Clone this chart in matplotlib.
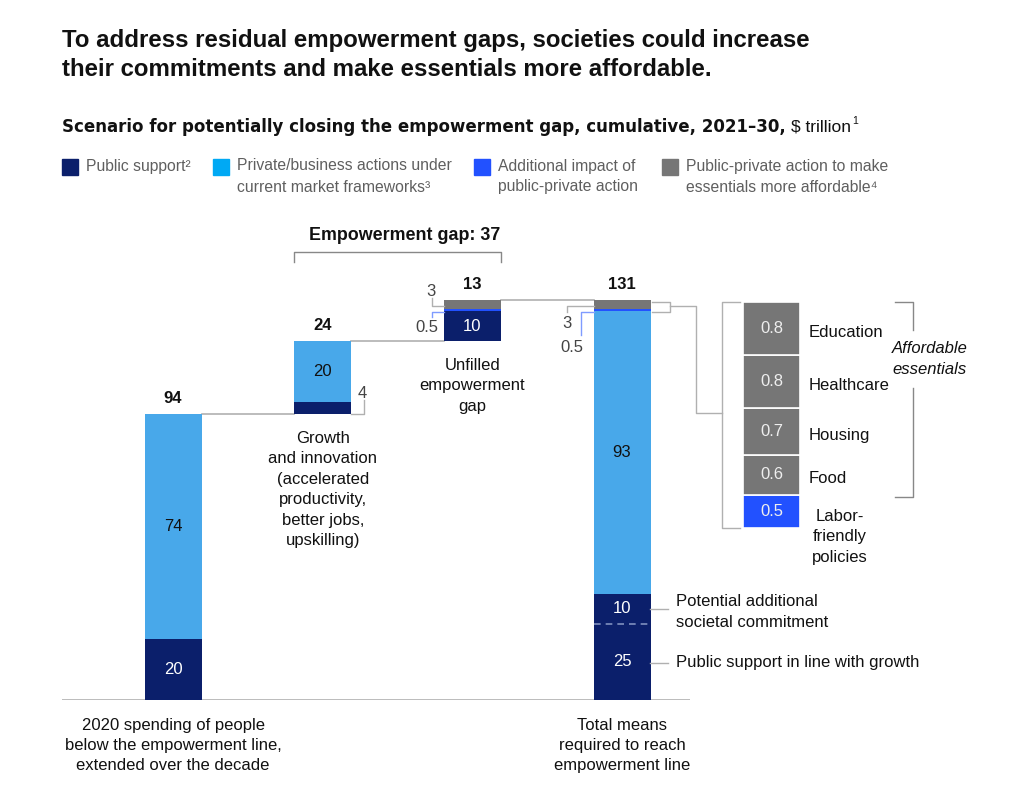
import matplotlib
matplotlib.use('Agg')
import matplotlib.pyplot as plt
from matplotlib.patches import Rectangle

plt.rcParams['font.family'] = ['Liberation Sans', 'DejaVu Sans']

NAVY = '#0b1f6b'
SKY = '#48a8ea'
SKY_LEG = '#00a9f4'
BLUE = '#2251ff'
GREY = '#767676'
LINE = '#b0b0b0'
INK = '#111111'
SOFT = '#5f5f5f'
LS = 1.45

# --- data ---
bar_labels = ['2020 spending of people\nbelow the empowerment line,\nextended over the decade',
              'Growth\nand innovation\n(accelerated\nproductivity,\nbetter jobs,\nupskilling)',
              'Unfilled\nempowerment\ngap',
              'Total means\nrequired to reach\nempowerment line']
bar_totals = [94, 24, 13, 131]
public_support = [20, 4, 10, 35]
public_split = [25, 10]          # last bar: in line with growth + additional commitment
private_actions = [74, 20, 0, 93]
additional_impact = [0, 0, 0.5, 0.5]
affordable = [0, 0, 3, 3]
waterfall = [False, True, True, False]

essentials = ['Labor-\nfriendly\npolicies', 'Food', 'Housing', 'Healthcare', 'Education']
essential_values = [0.5, 0.6, 0.7, 0.8, 0.8]
essential_colors = [BLUE, GREY, GREY, GREY, GREY]

legend_labels = ['Public support\u00b2',
                 'Private/business actions under\ncurrent market frameworks\u00b3',
                 'Additional impact of\npublic-private action',
                 'Public-private action to make\nessentials more affordable\u2074']
legend_colors = [NAVY, SKY_LEG, BLUE, GREY]

W, H = 1033, 793
fig = plt.figure(figsize=(W / 100, H / 100), dpi=100)


def fx(x):
    return x / W


def fy(y):
    return 1 - y / H


# overlay in pixel coordinates for decorations
ov = fig.add_axes([0, 0, 1, 1], zorder=5)
ov.set_xlim(0, W)
ov.set_ylim(H, 0)
ov.axis('off')
ov.patch.set_alpha(0)

# --- titles ---
fig.text(fx(62), fy(40), 'To address residual empowerment gaps, societies could increase',
         fontsize=17.3, fontweight='bold', color=INK, va='center')
fig.text(fx(62), fy(69), 'their commitments and make essentials more affordable.',
         fontsize=17.3, fontweight='bold', color=INK, va='center')

r = fig.canvas.get_renderer()
sub = fig.text(fx(62), fy(127), 'Scenario for potentially closing the empowerment gap, cumulative, 2021\u201330,',
               fontsize=12, fontweight='bold', color=INK, va='center', family='DejaVu Sans')
bb = sub.get_window_extent(renderer=r)
unit = fig.text(bb.x1 / W + fx(5), fy(127), '$ trillion', fontsize=12.5, color=INK, va='center')
bb2 = unit.get_window_extent(renderer=r)
fig.text(bb2.x1 / W + fx(1), fy(121), '1', fontsize=7.5, color=INK, va='center')

# --- legend ---
leg_x = [62, 213, 474, 662]
for lx, lab, col in zip(leg_x, legend_labels, legend_colors):
    ov.add_patch(Rectangle((lx, 159), 16, 16, color=col))
    ov.text(lx + 24, 158.5, lab, fontsize=11.3, color=SOFT, va='top', linespacing=1.5)

# --- main waterfall ---
x0_px, x1_px = 62, 690
xmin, xmax = -0.742, 3.454
base_px, top_px = 700, 280
ymax = (base_px - top_px) / 3.04
ax = fig.add_axes([fx(x0_px), fy(base_px), (x1_px - x0_px) / W, (base_px - top_px) / H])
ax.set_xlim(xmin, xmax)
ax.set_ylim(0, ymax)
ax.axis('off')
bw = 0.381

xs = list(range(len(bar_totals)))
bases = []
run = 0
for tot, wf in zip(bar_totals, waterfall):
    bases.append(run if wf else 0)
    run = (run if wf else 0) + tot

ax.axhline(0, color=LINE, lw=1.2, zorder=1)

tops = []
for i in xs:
    b = bases[i]
    for val, col in [(public_support[i], NAVY), (private_actions[i], SKY),
                     (additional_impact[i], BLUE), (affordable[i], GREY)]:
        if val:
            ax.bar(i, val, bw, bottom=b, color=col, lw=0, zorder=3)
        b += val
    tops.append(b)

# connectors
for i in range(len(xs) - 1):
    ax.plot([i + bw / 2, i + 1 - bw / 2], [tops[i], tops[i]], color=LINE, lw=1.2, zorder=2)

# dashed split on last bar
ax.plot([3 - bw / 2, 3 + bw / 2], [public_split[0], public_split[0]], color='#7f8fbf',
        lw=1.2, ls=(0, (4, 3)), zorder=4)


def inside(i, y, txt, col):
    ax.text(i, y, txt, ha='center', va='center', fontsize=12, color=col, zorder=5)


inside(0, public_support[0] / 2, str(public_support[0]), 'white')
inside(0, public_support[0] + private_actions[0] / 2, str(private_actions[0]), INK)
inside(1, bases[1] + public_support[1] + private_actions[1] / 2, str(private_actions[1]), INK)
inside(2, bases[2] + public_support[2] / 2, str(public_support[2]), 'white')
inside(3, public_split[0] / 2, str(public_split[0]), 'white')
inside(3, public_split[0] + public_split[1] / 2, str(public_split[1]), 'white')
inside(3, public_support[3] + private_actions[3] / 2, str(private_actions[3]), INK)

# totals
for i in xs:
    ax.text(i, tops[i] + 5.3, str(bar_totals[i]), ha='center', va='center', fontsize=12,
            fontweight='bold', color=INK)

# category labels
for i in xs:
    y = bases[i] - 5.5 if waterfall[i] else -5.8
    ax.text(i, y, bar_labels[i], ha='center', va='top', fontsize=12,
            color=INK, linespacing=LS)

# --- small-value callouts (pixel overlay) ---
ov.plot([351, 364, 364], [414, 414, 400], color=LINE, lw=1)
ov.text(362, 393, str(public_support[1]), ha='center', va='center', fontsize=12, color='#444')
ov.plot([444, 432, 432], [306, 306, 298], color=LINE, lw=1)
ov.text(431, 291, str(affordable[2]), ha='center', va='center', fontsize=12, color='#444')
ov.plot([444, 432, 432], [312, 312, 317], color='#7f9bff', lw=1)
ov.text(438, 327, str(additional_impact[2]), ha='right', va='center', fontsize=12, color='#444')
ov.plot([594, 567, 567], [306, 306, 312], color=LINE, lw=1)
ov.text(567, 323, str(affordable[3]), ha='center', va='center', fontsize=12, color='#444')
ov.plot([594, 581, 581], [312, 312, 335], color='#7f9bff', lw=1)
ov.text(572, 348, str(additional_impact[3]), ha='center', va='center', fontsize=12, color='#444')

# bar 4 side notes
ov.plot([650, 668], [609, 609], color=LINE, lw=1)
ov.text(676, 612, 'Potential additional\nsocietal commitment', va='center', fontsize=12,
        color=INK, linespacing=LS)
ov.plot([650, 668], [663, 663], color=LINE, lw=1)
ov.text(676, 663, 'Public support in line with growth', va='center', fontsize=12, color=INK)

# empowerment gap bracket
ov.plot([294, 294, 501, 501], [262, 252, 252, 262], color='#888', lw=1)
ov.text(405, 236, 'Empowerment gap: 37', ha='center', va='center', fontsize=12.9,
        fontweight='bold', color=INK)

# link from bar 4 top to breakdown
ov.plot([652, 670, 670, 652], [302, 302, 312, 312], color=LINE, lw=1)
ov.plot([670, 696, 696, 722], [306, 306, 413, 413], color=LINE, lw=1)
ov.plot([740, 722, 722, 740], [302, 302, 528, 528], color=LINE, lw=1)

# --- breakdown bar ---
bx = fig.add_axes([fx(743), fy(528), 57 / W, (528 - 302) / H])
bx.set_xlim(-0.5, 0.5)
bx.set_ylim(0, sum(essential_values))
bx.axis('off')
b = 0
for lab, val, col in zip(essentials, essential_values, essential_colors):
    bx.bar(0, val, 1.0, bottom=b, color=col, edgecolor='white', lw=1.2)
    bx.text(0, b + val / 2, str(val), ha='center', va='center', fontsize=12, color='#eeeeee')
    if lab.startswith('Labor'):
        ov.text(840, 509, lab, ha='center', va='top', fontsize=12, color=INK,
                linespacing=LS)
    else:
        bx.text(0.65, b + val / 2 - 0.06, lab, ha='left', va='center', fontsize=12, color=INK,
                clip_on=False)
    b += val

# affordable essentials bracket
ov.plot([895, 913, 913], [302, 302, 330], color='#888', lw=1)
ov.plot([913, 913, 895], [388, 497, 497], color='#888', lw=1)
ov.text(930, 359, 'Affordable\nessentials', ha='center', va='center', fontsize=12,
        style='italic', color=INK, linespacing=LS)

fig.savefig('out.png', dpi=100)
